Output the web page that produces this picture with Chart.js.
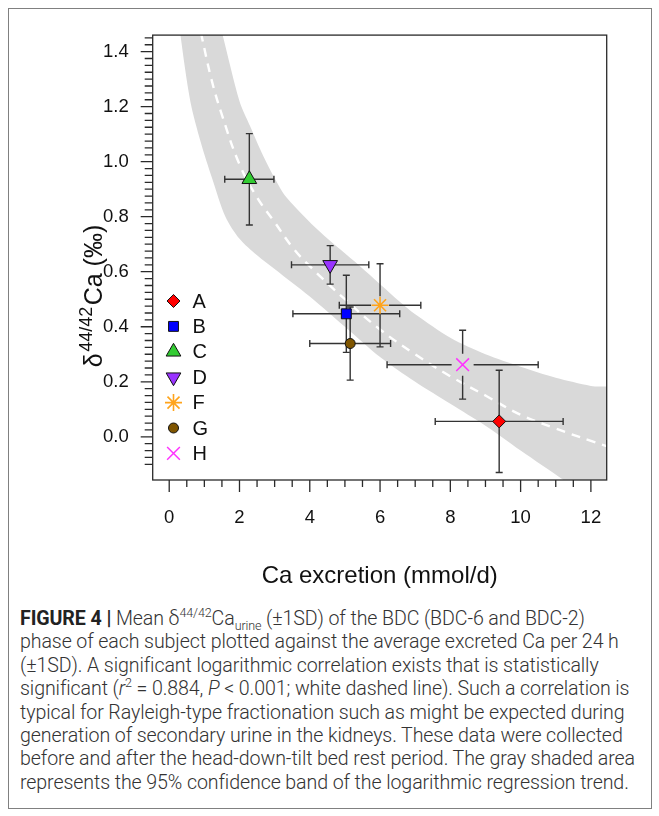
<!DOCTYPE html>
<html>
<head>
<meta charset="utf-8">
<script src="https://cdn.jsdelivr.net/npm/chart.js@4.4.1/dist/chart.umd.min.js"></script>
<style>
    html, body { margin: 0; padding: 0; background: #fff; }
    body { width: 659px; height: 816px; position: relative; overflow: hidden; }
    #frame {
        position: absolute; left: 8px; top: 8px; width: 644px; height: 801px;
        border: 1px solid #808080; box-sizing: border-box;
    }
    #wrap { position: absolute; left: 0; top: 0; width: 659px; height: 600px; }
    #caption {
        position: absolute; left: 20px; top: 607px;
        font-family: Roboto, "Liberation Sans", sans-serif; font-weight: 300;
        font-size: 19.6px; letter-spacing: -0.1px; line-height: 23.4px;
        color: #333; white-space: nowrap;
    }
    #caption b { font-weight: 700; color: #222; }
    #caption sup, #caption sub { font-size: 12.5px; line-height: 0; }
</style>
</head>
<body>
<div id="frame"></div>
<div id="wrap"><canvas id="chart" width="659" height="600"></canvas></div>
<div id="caption">
<b>FIGURE 4 |</b> Mean δ<sup>44/42</sup>Ca<sub>urine</sub> (±1SD) of the BDC (BDC-6 and BDC-2)<br>
phase of each subject plotted against the average excreted Ca per 24 h<br>
(±1SD). A significant logarithmic correlation exists that is statistically<br>
significant (<i>r</i><sup>2</sup> = 0.884, <i>P</i> &lt; 0.001; white dashed line). Such a correlation is<br>
typical for Rayleigh-type fractionation such as might be expected during<br>
generation of secondary urine in the kidneys. These data were collected<br>
before and after the head-down-tilt bed rest period. The gray shaded area<br>
represents the 95% confidence band of the logarithmic regression trend.
</div>
<script>
// Subject means (±1SD)
const subjects = ['A', 'B', 'C', 'D', 'F', 'G', 'H'];
const caExcretion = [9.39, 5.04, 2.28, 4.58, 6.00, 5.15, 8.35];
const caExcretionSD = [1.82, 1.52, 0.70, 1.10, 1.16, 1.15, 2.15];
const deltaCa = [0.056, 0.447, 0.936, 0.625, 0.478, 0.339, 0.262];
const deltaCaSD = [0.186, 0.140, 0.166, 0.070, 0.151, 0.133, 0.125];

// Logarithmic regression trend (white dashed line)
const trendX = [0.9, 1.2, 1.5, 2, 2.5, 3, 3.5, 4, 5, 6, 7, 8, 9, 10, 11, 12, 12.6];
const trendY = [1.47, 1.30, 1.17, 0.99, 0.87, 0.78, 0.69, 0.62, 0.50, 0.39, 0.30, 0.22, 0.15, 0.08, 0.03, -0.015, -0.04];

// 95% confidence band edges
const bandLowerX = [0.2, 0.32, 0.6, 0.9, 1.22, 1.6, 2, 2.5, 3, 3.5, 4, 5, 6, 7, 8, 9, 10, 11.22, 11.6];
const bandLowerY = [1.6, 1.46, 1.22, 1.07, 0.94, 0.80, 0.72, 0.66, 0.61, 0.56, 0.51, 0.40, 0.29, 0.20, 0.12, 0.04, -0.05, -0.157, -0.19];
const bandUpperX = [1.4, 1.52, 2, 2.3, 2.68, 3, 3.34, 4.29, 5.43, 6.57, 7, 8, 9, 10, 11, 12, 12.8];
const bandUpperY = [1.52, 1.46, 1.22, 1.13, 1.02, 0.94, 0.87, 0.745, 0.62, 0.49, 0.445, 0.36, 0.30, 0.255, 0.215, 0.185, 0.165];

// Axis ticks
const xTickLabels = [0, 2, 4, 6, 8, 10, 12];
const yTickLabels = [0.0, 0.2, 0.4, 0.6, 0.8, 1.0, 1.2, 1.4];

// Marker look per subject
const MARKERS = {
    A: { style: 'rectRot', radius: 6.5, fill: '#ff0000', stroke: '#111', width: 1, rotation: 0, gap: 0 },
    B: { style: 'rect', radius: 7, fill: '#0000ff', stroke: '#111', width: 1, rotation: 0, gap: 0 },
    C: { style: 'triangle', radius: 8.5, fill: '#33cc33', stroke: '#111', width: 1, rotation: 0, gap: 0 },
    D: { style: 'triangle', radius: 8.5, fill: '#9933ff', stroke: '#111', width: 1, rotation: 180, gap: 0 },
    F: { style: 'star', radius: 8.5, fill: '#ffa41c', stroke: '#ffa41c', width: 1.6, rotation: 0, gap: 9 },
    G: { style: 'circle', radius: 5, fill: '#7f5500', stroke: '#111', width: 1, rotation: 0, gap: 0 },
    H: { style: 'crossRot', radius: 9, fill: '#ff33ff', stroke: '#ff33ff', width: 1.5, rotation: 0, gap: 11 },
};

const AXIS_COLOR = '#2a2a2a';
const FONT = '"Liberation Sans", Arial, sans-serif';

const markerOpt = (key) => subjects.map(s => MARKERS[s][key]);

// Error bars under the markers
const errorBarPlugin = {
    id: 'errorBars',
    beforeDatasetDraw(chart, args) {
        if (args.index !== 0) return;
        const { ctx, scales: { x, y } } = chart;
        const cap = 3.5;
        ctx.save();
        ctx.strokeStyle = '#333';
        ctx.lineWidth = 1.4;
        subjects.forEach((s, i) => {
            const g = MARKERS[s].gap;
            const cx = x.getPixelForValue(caExcretion[i]);
            const cy = y.getPixelForValue(deltaCa[i]);
            const x0 = x.getPixelForValue(caExcretion[i] - caExcretionSD[i]);
            const x1 = x.getPixelForValue(caExcretion[i] + caExcretionSD[i]);
            const y0 = y.getPixelForValue(deltaCa[i] - deltaCaSD[i]);
            const y1 = y.getPixelForValue(deltaCa[i] + deltaCaSD[i]);
            ctx.beginPath();
            ctx.moveTo(x0, cy); ctx.lineTo(cx - g, cy);
            ctx.moveTo(cx + g, cy); ctx.lineTo(x1, cy);
            ctx.moveTo(x0, cy - cap); ctx.lineTo(x0, cy + cap);
            ctx.moveTo(x1, cy - cap); ctx.lineTo(x1, cy + cap);
            ctx.moveTo(cx, y1); ctx.lineTo(cx, cy - g);
            ctx.moveTo(cx, cy + g); ctx.lineTo(cx, y0);
            ctx.moveTo(cx - cap, y0); ctx.lineTo(cx + cap, y0);
            ctx.moveTo(cx - cap, y1); ctx.lineTo(cx + cap, y1);
            ctx.stroke();
        });
        ctx.restore();
    }
};

// Frame, tick marks, axis titles and in-plot legend
const decorPlugin = {
    id: 'decor',
    afterDatasetsDraw(chart) {
        const { ctx, chartArea: a, scales: { x, y } } = chart;
        ctx.save();
        ctx.strokeStyle = AXIS_COLOR;
        ctx.lineWidth = 1.3;
        ctx.strokeRect(a.left, a.top, a.right - a.left, a.bottom - a.top);

        ctx.beginPath();
        // y ticks every 0.025, major every 0.2
        for (let k = -4; k <= 58; k++) {
            const py = y.getPixelForValue(k * 0.025);
            const len = k % 8 === 0 ? 12 : 8;
            ctx.moveTo(a.left, py); ctx.lineTo(a.left - len, py);
        }
        // x ticks every 0.5, major every 2
        for (let k = 0; k <= 24; k++) {
            const px = x.getPixelForValue(k * 0.5);
            const len = k % 4 === 0 ? 12 : 7;
            ctx.moveTo(px, a.bottom); ctx.lineTo(px, a.bottom + len);
        }
        ctx.stroke();

        // legend
        ctx.font = '20px ' + FONT;
        ctx.textBaseline = 'middle';
        ctx.fillStyle = '#111';
        subjects.forEach((s, i) => {
            const m = MARKERS[s];
            const ly = 301 + i * 25.4;
            ctx.save();
            ctx.fillStyle = m.fill;
            ctx.strokeStyle = m.stroke;
            ctx.lineWidth = m.width;
            Chart.helpers.drawPoint(ctx, { pointStyle: m.style, radius: m.radius, rotation: m.rotation, borderWidth: m.width }, 173.5, ly);
            ctx.restore();
            ctx.fillText(s, 192.5, ly + 1);
        });

        // x title
        ctx.fillStyle = '#111';
        ctx.textAlign = 'center';
        ctx.textBaseline = 'middle';
        ctx.font = '24px ' + FONT;
        ctx.fillText('Ca excretion (mmol/d)', (a.left + a.right) / 2, 576);

        // y title with superscript
        ctx.translate(102, 296);
        ctx.rotate(-Math.PI / 2);
        ctx.textAlign = 'left';
        ctx.textBaseline = 'alphabetic';
        const big = '25px ' + FONT, small = '18px ' + FONT;
        ctx.font = big; const w1 = ctx.measureText('δ').width;
        ctx.font = small; const w2 = ctx.measureText('44/42').width;
        ctx.font = big; const w3 = ctx.measureText('Ca (‰)').width;
        let tx = -(w1 + w2 + w3 + 3) / 2;
        ctx.font = big; ctx.fillText('δ', tx, 0); tx += w1 + 1.5;
        ctx.font = small; ctx.fillText('44/42', tx, -10); tx += w2 + 1.5;
        ctx.font = big; ctx.fillText('Ca (‰)', tx, 0);
        ctx.restore();
    }
};

const bandShape = [
    ...bandLowerX.map((v, i) => ({ x: v, y: bandLowerY[i] })),
    { x: 13.5, y: -0.4 },
    ...bandUpperX.map((v, i) => ({ x: v, y: bandUpperY[i] })).reverse(),
];

new Chart(document.getElementById('chart'), {
    type: 'scatter',
    data: {
        datasets: [
            {
                label: 'Subjects',
                data: subjects.map((s, i) => ({ x: caExcretion[i], y: deltaCa[i] })),
                pointStyle: markerOpt('style'),
                pointRadius: markerOpt('radius'),
                pointBackgroundColor: markerOpt('fill'),
                pointBorderColor: markerOpt('stroke'),
                pointBorderWidth: markerOpt('width'),
                pointRotation: markerOpt('rotation'),
                order: 1,
            },
            {
                type: 'line',
                label: 'Log trend',
                data: trendX.map((v, i) => ({ x: v, y: trendY[i] })),
                borderColor: '#ffffff',
                borderWidth: 2.4,
                borderDash: [9, 7],
                pointRadius: 0,
                tension: 0.4,
                fill: false,
                order: 2,
            },
            {
                type: 'line',
                label: '95% band',
                data: bandShape,
                backgroundColor: '#d9d9d9',
                borderWidth: 0,
                borderColor: 'rgba(0,0,0,0)',
                pointRadius: 0,
                tension: 0.3,
                fill: 'shape',
                order: 3,
            },
        ],
    },
    options: {
        responsive: false,
        animation: false,
        events: [],
        layout: { padding: { left: 0, top: 27, right: 52.3, bottom: 0 } },
        plugins: { legend: { display: false }, tooltip: { enabled: false } },
        scales: {
            x: {
                type: 'linear',
                min: -0.47,
                max: 12.45,
                afterBuildTicks: (scale) => { scale.ticks = xTickLabels.map(v => ({ value: v })); },
                afterFit: (scale) => { scale.height = 120; },
                grid: { display: false, drawTicks: false },
                border: { display: false },
                ticks: { padding: 27, color: '#111', font: { family: FONT, size: 18.5 }, maxRotation: 0 },
            },
            y: {
                type: 'linear',
                min: -0.157,
                max: 1.46,
                afterBuildTicks: (scale) => { scale.ticks = yTickLabels.map(v => ({ value: v })); },
                afterFit: (scale) => { scale.width = 152.7; },
                grid: { display: false, drawTicks: false },
                border: { display: false },
                ticks: { padding: 24, color: '#111', font: { family: FONT, size: 18.5 }, callback: (v) => v.toFixed(1) },
            },
        },
    },
    plugins: [errorBarPlugin, decorPlugin],
});
</script>
</body>
</html>
